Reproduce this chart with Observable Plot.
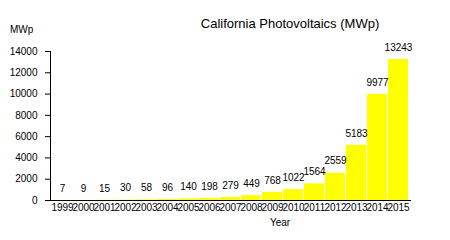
<!DOCTYPE html>
<html><head><meta charset="utf-8">
<script src="https://cdn.jsdelivr.net/npm/d3@7"></script>
<script src="https://cdn.jsdelivr.net/npm/@observablehq/plot@0.6"></script>
<style>
body{margin:0;background:#fff;font-family:"Liberation Sans",Arial,sans-serif;}
#wrap{position:relative;width:450px;height:240px;overflow:hidden;}
#wrap svg{position:absolute;left:0;top:0;}
.t{position:absolute;color:#000;white-space:nowrap;line-height:1;}
#title{font-size:13px;left:290px;top:17px;transform:translateX(-50%);}
#ylab{font-size:10px;left:10px;top:25px;}
#xlab{font-size:10px;left:280px;top:218px;transform:translateX(-50%);}
</style></head><body>
<div id="wrap">
<div class="t" id="title">California Photovoltaics (MWp)</div>
<div class="t" id="ylab">MWp</div>
<div class="t" id="xlab">Year</div>
</div>
<script>
const years = ["1999","2000","2001","2002","2003","2004","2005","2006","2007","2008","2009","2010","2011","2012","2013","2014","2015"];
const values = [7, 9, 15, 30, 58, 96, 140, 198, 279, 449, 768, 1022, 1564, 2559, 5183, 9977, 13243];
const yTicks = [0, 2000, 4000, 6000, 8000, 10000, 12000, 14000];
const data = years.map((y, i) => ({year: y, value: values[i]}));

const chart = Plot.plot({
  width: 450, height: 240,
  marginTop: 51, marginBottom: 40, marginLeft: 50, marginRight: 39,
  style: {fontFamily: "'Liberation Sans', Arial, sans-serif", fontSize: "10px", color: "#000", background: "transparent"},
  x: {type: "band", domain: years, padding: 0.04, label: null},
  y: {domain: [0, 14000], label: null},
  marks: [
    Plot.barY(data, {x: "year", y: "value", fill: "#ffff00"}),
    Plot.axisY({ticks: yTicks, tickSize: 5, tickPadding: 8, label: null, tickFormat: d => String(d)}),
    Plot.axisX({tickSize: 0, tickPadding: 3, label: null}),
    Plot.ruleY([0], {stroke: "#000"}),
    Plot.frame({anchor: "left", stroke: "#000"}),
    Plot.text(data, {x: "year", y: "value", text: d => String(d.value), dy: -12, fontSize: 10, fill: "#000"})
  ]
});
document.getElementById("wrap").appendChild(chart);
</script>
</body></html>
